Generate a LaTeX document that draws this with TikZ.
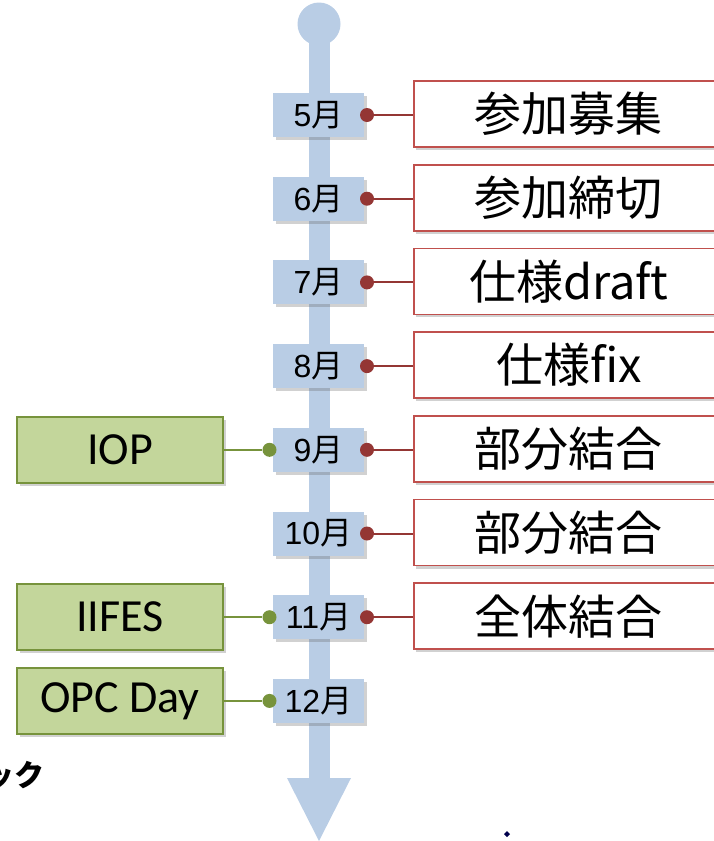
\documentclass[tikz,border=0pt]{standalone}
\usepackage{fontspec}
\newfontfamily\cjkfont{Noto Sans CJK JP}
\newfontfamily\calfont{Carlito}
\newfontfamily\arfont{Liberation Sans}
\usetikzlibrary{shadows}
\definecolor{spineblue}{HTML}{B9CDE5}
\definecolor{redline}{HTML}{C0504D}
\definecolor{reddot}{HTML}{943634}
\definecolor{greenfill}{HTML}{C3D69B}
\definecolor{greenline}{HTML}{77933C}
\tikzset{
  shad/.style={drop shadow={shadow xshift=2.5pt,shadow yshift=-3pt,opacity=0.3,fill=black!60}},
  month/.style={fill=spineblue,minimum width=91pt,minimum height=44pt,inner sep=0pt,shad,
    font=\fontsize{32}{34}\selectfont},
  event/.style={draw=redline,line width=1.6pt,fill=white,minimum width=310pt,minimum height=66pt,
    inner sep=0pt,anchor=west,shad,font=\cjkfont\fontsize{47}{52}\selectfont},
  side/.style={draw=greenline,line width=1.6pt,fill=greenfill,minimum width=206pt,minimum height=66pt,
    inner sep=0pt,shad,font=\calfont\fontsize{46}{50}\selectfont},
  rdot/.style={circle,fill=reddot,inner sep=0pt,minimum size=14pt},
  gdot/.style={circle,fill=greenline,inner sep=0pt,minimum size=14pt},
  rconn/.style={draw=reddot,line width=2pt},
  gconn/.style={draw=greenline,line width=2pt}
}
\begin{document}
\begin{tikzpicture}[x=1pt,y=-1pt]
\useasboundingbox (0,0) rectangle (714,841);
\clip (0,0) rectangle (714,841);
% spine
\fill[spineblue] (319,24) circle (21.5);
\fill[spineblue] (308.5,24) rectangle (330,779);
\fill[spineblue] (287,778) -- (351,778) -- (319,841) -- cycle;
% months
\foreach \m/\y in {5/115,6/198.7,7/282.4,8/366.1,9/449.8,10/533.5,11/617.2,12/700.9}{
  \node[month] (m\m) at (318.5,\y) {{\arfont\m}{\cjkfont 月}};
}
% red events
\foreach \m/\t in {5/参加募集,6/参加締切,7/仕様draft,8/仕様fix,9/部分結合,10/部分結合,11/全体結合}{
  \node[event] (e\m) at (413,{115+83.7*(\m-5)-1}) {\t};
  \node[rdot] (r\m) at (367,{115+83.7*(\m-5)}) {};
  \draw[rconn] (r\m) -- (r\m -| e\m.west);
}
% green events
\foreach \m/\t in {9/IOP,11/IIFES,12/OPC Day}{
  \node[side] (g\m) at (120,{115+83.7*(\m-5)}) {\t};
  \node[gdot] (d\m) at (269.5,{115+83.7*(\m-5)}) {};
  \draw[gconn] (g\m.east |- d\m) -- (d\m);
}
% cut text at left
\node[anchor=east,inner sep=0pt,font=\cjkfont\bfseries\fontsize{30}{34}\selectfont] (cut) at (45,775) {ック};
% small artifact
\fill[black!70!blue] (507,831) -- (510,834) -- (507,837) -- (504,834) -- cycle;
\end{tikzpicture}
\end{document}
